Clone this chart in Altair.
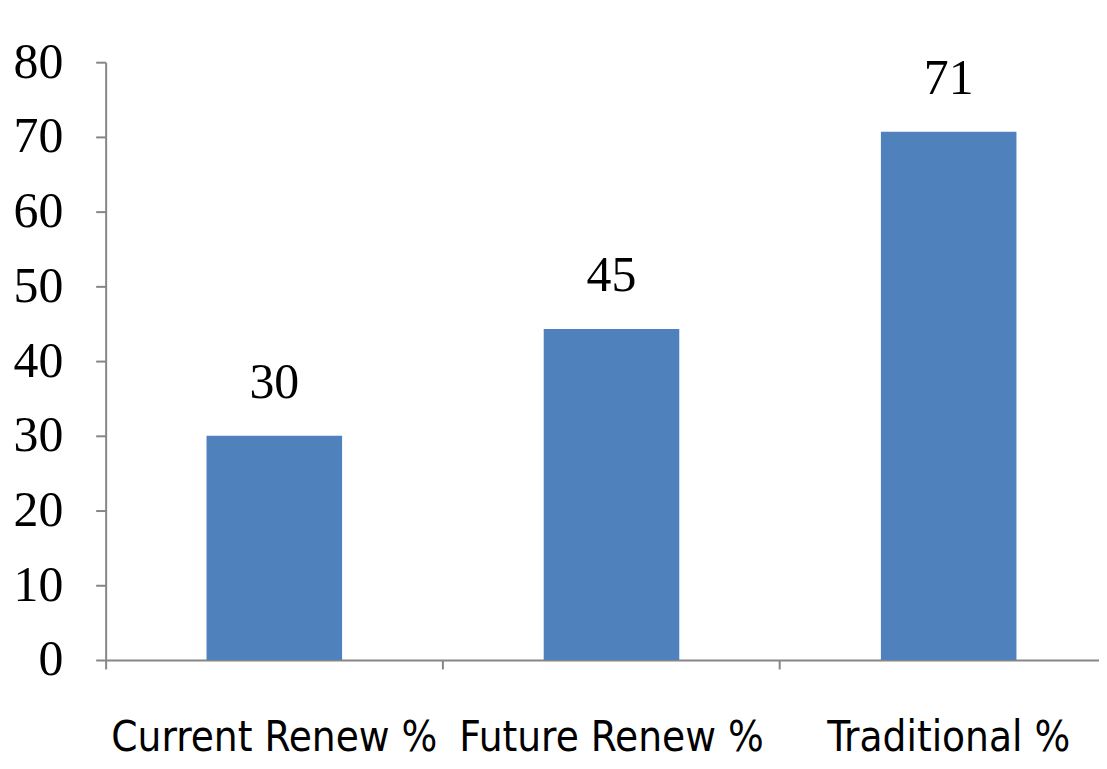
import altair as alt
import pandas as pd

categories = ["Current Renew %", "Future Renew %", "Traditional %"]
values = [30, 44.3, 70.7]
value_labels = ["30", "45", "71"]
y_ticks = [0, 10, 20, 30, 40, 50, 60, 70, 80]

df = pd.DataFrame({"category": categories, "value": values, "label": value_labels})

axis_gray = "#868686"
bar_color = "#4F81BD"

x_enc = alt.X(
    "category:N",
    sort=categories,
    scale=alt.Scale(paddingInner=0.598, paddingOuter=0.272, align=0.55),
    axis=alt.Axis(
        title=None,
        labelAngle=0,
        bandPosition=-0.744,
        tickSize=9,
        tickWidth=2,
        tickColor=axis_gray,
        domainColor=axis_gray,
        domainWidth=2,
        labelFont="Liberation Sans Narrow, DejaVu Sans Condensed, Arial Narrow, sans-serif",
        labelFontSize=42,
        labelColor="black",
        labelPadding=49,
        labelLimit=0,
    ),
)

y_enc = alt.Y(
    "value:Q",
    scale=alt.Scale(domain=[0, 80], nice=False),
    axis=alt.Axis(
        title=None,
        values=y_ticks,
        grid=False,
        tickSize=10,
        tickWidth=2,
        tickColor=axis_gray,
        domainColor=axis_gray,
        domainWidth=2,
        labelFont="Liberation Serif",
        labelFontSize=50,
        labelColor="black",
        labelPadding=33,
    ),
)

bars = alt.Chart(df).mark_bar(color=bar_color).encode(x=x_enc, y=y_enc)

texts = alt.Chart(df).mark_text(
    font="Liberation Serif", fontSize=50, color="black", baseline="alphabetic", dy=-38
).encode(x=alt.X("category:N", sort=categories), y="value:Q", text="label:N")

chart = (
    alt.layer(bars, texts)
    .properties(
        width=997,
        height=600,
        padding={"left": 98, "top": 53, "right": 0, "bottom": 100},
        autosize=alt.AutoSizeParams(type="none"),
        background="white",
    )
    .configure_view(stroke=None)
)

chart.save("out.html", embed_options={"renderer": "svg", "actions": False})
